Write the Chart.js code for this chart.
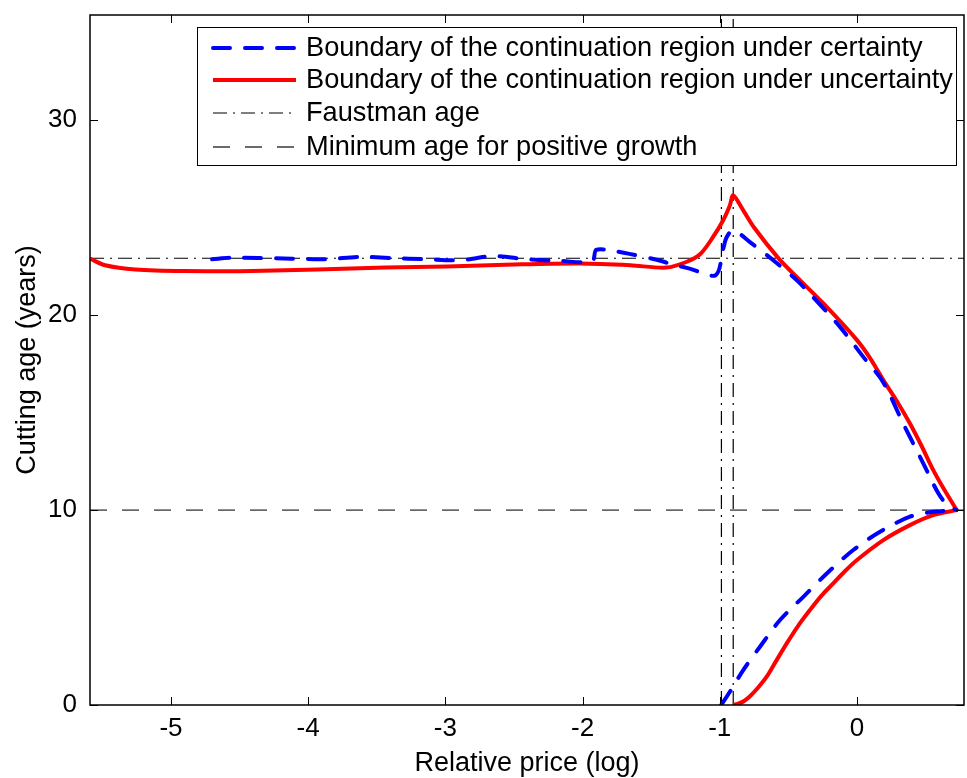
<!DOCTYPE html>
<html><head><meta charset="utf-8">
<script src="https://cdn.jsdelivr.net/npm/chart.js@4"></script>
<style>html,body{margin:0;padding:0;background:#fff;} #wrap{width:967px;height:778px;position:relative}</style>
</head><body><div id="wrap"><canvas id="c" width="967" height="778"></canvas></div>
<script>
// ---- data ----
const xTicks = [-5, -4, -3, -2, -1, 0];
const yTicks = [0, 10, 20, 30];
const xRange = [-5.59, 0.78];
const yRange = [0, 35.4];

const seriesLabels = [
  'Boundary of the continuation region under certainty',
  'Boundary of the continuation region under uncertainty',
  'Faustman age',
  'Minimum age for positive growth'
];

// certainty boundary (blue dashed), upper branch
const blueUpperX = [-4.70,-4.56,-4.37,-4.12,-3.88,-3.61,-3.40,-3.14,-2.89,-2.65,-2.41,-2.16,-1.93,-1.90,-1.78,-1.65,-1.46,-1.34,-1.22,-1.03,-0.975,-0.95,-0.902,-0.78,-0.61,-0.44,-0.343,-0.124,0.046,0.192,0.337,0.483,0.593,0.66,0.727];
const blueUpperY = [22.87,22.95,22.93,22.90,22.87,22.99,22.93,22.87,22.82,23.03,22.87,22.78,22.76,23.35,23.30,23.13,22.84,22.60,22.39,22.05,23.40,24.00,24.36,23.75,22.82,21.80,21.10,19.40,17.86,16.55,14.44,12.40,10.86,10.25,10.0];
// certainty boundary, lower branch
const blueLowerX = [-0.99,-0.926,-0.829,-0.707,-0.561,-0.391,-0.22,-0.027,0.168,0.386,0.556,0.727];
const blueLowerY = [0,0.68,1.79,2.99,4.36,5.55,6.75,7.95,8.89,9.66,9.91,10.0];

// uncertainty boundary (red solid), upper branch
const redUpperX = [-5.59,-5.48,-5.26,-4.90,-4.41,-3.93,-3.44,-2.99,-2.50,-2.02,-1.65,-1.39,-1.24,-1.14,-1.05,-0.975,-0.926,-0.902,-0.829,-0.75,-0.57,-0.44,-0.245,0,0.10,0.192,0.29,0.386,0.47,0.556,0.64,0.727];
const redUpperY = [22.90,22.56,22.34,22.26,22.27,22.34,22.44,22.50,22.60,22.65,22.56,22.44,22.74,23.15,24.00,24.87,25.64,26.15,25.38,24.50,22.90,21.96,20.60,18.72,17.75,16.67,15.60,14.44,13.30,12.05,11.00,10.0];
// uncertainty boundary, lower branch
const redLowerX = [-0.902,-0.86,-0.82,-0.78,-0.72,-0.658,-0.59,-0.512,-0.43,-0.343,-0.26,-0.173,-0.09,0,0.192,0.386,0.556,0.727];
const redLowerY = [0,0.08,0.22,0.45,0.90,1.45,2.25,3.16,4.05,4.87,5.60,6.24,6.85,7.44,8.46,9.23,9.74,10.0];

const faustmanAge = 22.92;
const minimumAge = 10;
const verticalMarksX = [-0.988, -0.902];

// ---- helpers ----
const pts = (xs, ys) => xs.map((x, i) => ({x: x, y: ys[i]}));
const FONT = "'Liberation Sans', Arial, Helvetica, sans-serif";
const DASH_BLUE = [17, 15];
const DASH_DOT = [14, 6, 2, 6];
const DASH_GRAY = [17, 15];

const datasets = [
  {label: seriesLabels[0], data: pts(blueUpperX, blueUpperY), borderColor: '#0000ff', borderWidth: 4, borderDash: DASH_BLUE, borderCapStyle: 'round', tension: 0.3, leg: 0},
  {label: seriesLabels[0], data: pts(blueLowerX, blueLowerY), borderColor: '#0000ff', borderWidth: 4, borderDash: DASH_BLUE, borderCapStyle: 'round', tension: 0.3},
  {label: seriesLabels[1], data: pts(redUpperX, redUpperY), borderColor: '#ff0000', borderWidth: 4, tension: 0.3, leg: 1},
  {label: seriesLabels[1], data: pts(redLowerX, redLowerY), borderColor: '#ff0000', borderWidth: 4, tension: 0.3},
  {label: seriesLabels[2], data: pts(xRange, [faustmanAge, faustmanAge]), borderColor: '#000000', borderWidth: 1.2, borderDash: DASH_DOT, leg: 2},
  {label: seriesLabels[3], data: pts(xRange, [minimumAge, minimumAge]), borderColor: '#6a6a6a', borderWidth: 1.8, borderDash: DASH_GRAY, leg: 3},
  {label: 'v1', data: pts([verticalMarksX[0], verticalMarksX[0]], yRange), borderColor: '#000000', borderWidth: 1.2, borderDash: DASH_DOT},
  {label: 'v2', data: pts([verticalMarksX[1], verticalMarksX[1]], yRange), borderColor: '#000000', borderWidth: 1.2, borderDash: DASH_DOT}
];
datasets.forEach(d => { d.showLine = true; d.pointRadius = 0; d.pointHoverRadius = 0; d.fill = false; });

const frame = {
  id: 'frame',
  afterDatasetsDraw(chart) {
    const {ctx, chartArea: a, scales: {x, y}} = chart;
    ctx.save();
    ctx.strokeStyle = '#000'; ctx.lineWidth = 1.5; ctx.setLineDash([]);
    ctx.strokeRect(a.left, a.top, a.right - a.left, a.bottom - a.top);
    const L = 8;
    ctx.beginPath();
    xTicks.forEach(v => { const px = Math.round(x.getPixelForValue(v)) + 0.5;
      ctx.moveTo(px, a.bottom); ctx.lineTo(px, a.bottom - L);
      ctx.moveTo(px, a.top); ctx.lineTo(px, a.top + L); });
    yTicks.forEach(v => { const py = Math.round(y.getPixelForValue(v)) + 0.5;
      ctx.moveTo(a.left, py); ctx.lineTo(a.left + L, py);
      ctx.moveTo(a.right, py); ctx.lineTo(a.right - L, py); });
    ctx.lineWidth = 1; ctx.stroke();
    ctx.restore();
  },
  afterDraw(chart) {
    const {ctx, chartArea: a} = chart;
    const legs = chart.data.datasets.filter(d => d.leg !== undefined).sort((p, q) => p.leg - q.leg);
    const bx = a.left + 107, by = a.top + 12, bw = a.right - 8 - bx, bh = 138;
    ctx.save();
    ctx.fillStyle = '#fff'; ctx.fillRect(bx, by, bw, bh);
    ctx.strokeStyle = '#000'; ctx.lineWidth = 1; ctx.setLineDash([]);
    ctx.strokeRect(bx + 0.5, by + 0.5, bw, bh);
    ctx.font = '27.2px ' + FONT; ctx.textBaseline = 'middle'; ctx.fillStyle = '#000';
    const rows = [21, 53, 86, 120];
    legs.forEach((d, i) => {
      const yy = by + rows[i];
      ctx.beginPath();
      ctx.strokeStyle = d.borderColor; ctx.lineWidth = d.borderWidth;
      ctx.setLineDash(d.borderDash || []); ctx.lineCap = d.borderCapStyle || 'butt';
      ctx.moveTo(bx + 16, yy); ctx.lineTo(bx + 99, yy); ctx.stroke();
      ctx.setLineDash([]);
      ctx.fillText(d.label, bx + 109, yy + 1);
    });
    ctx.restore();
  }
};

new Chart(document.getElementById('c'), {
  type: 'scatter',
  data: {datasets: datasets},
  options: {
    responsive: false, animation: false, devicePixelRatio: 1,
    layout: {padding: {left: 0, right: 3, top: 15, bottom: 0}},
    plugins: {legend: {display: false}, tooltip: {enabled: false}},
    scales: {
      x: {type: 'linear', min: xRange[0], max: xRange[1],
        grid: {display: false, drawTicks: false}, border: {display: false},
        afterBuildTicks: s => { s.ticks = xTicks.map(v => ({value: v})); },
        afterFit: s => { s.height = 73; s.paddingLeft = 0; s.paddingRight = 0; },
        ticks: {color: '#000', font: {family: FONT, size: 26}, padding: 8, maxRotation: 0},
        title: {display: true, text: 'Relative price (log)', color: '#000', font: {family: FONT, size: 27, lineHeight: 1}, padding: {top: 0, bottom: 1}}},
      y: {type: 'linear', min: yRange[0], max: yRange[1],
        grid: {display: false, drawTicks: false}, border: {display: false},
        afterBuildTicks: s => { s.ticks = yTicks.map(v => ({value: v})); },
        afterFit: s => { s.width = 90; s.paddingTop = 0; s.paddingBottom = 0; },
        ticks: {color: '#000', font: {family: FONT, size: 26}, padding: 13},
        title: {display: true, text: 'Cutting age (years)', color: '#000', font: {family: FONT, size: 27, lineHeight: 1}, padding: {top: 14, bottom: 0}}}
    }
  },
  plugins: [frame]
});
</script>
</body></html>
